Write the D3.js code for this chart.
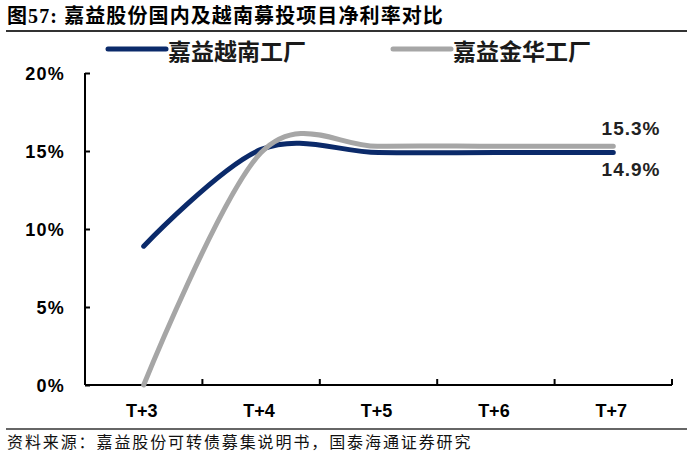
<!DOCTYPE html>
<html>
<head>
<meta charset="utf-8">
<script src="https://cdn.jsdelivr.net/npm/d3@7"></script>
<style>
  body { margin: 0; background: #fff; }
  svg { display: block; }
</style>
</head>
<body>
<script>
// chart data
var categories = ["T+3", "T+4", "T+5", "T+6", "T+7"];
var vietnam = [8.9, 15.1, 14.9, 14.9, 14.9];   // 嘉益越南工厂, %
var jinhua  = [0.0, 14.9, 15.3, 15.3, 15.3];   // 嘉益金华工厂, %
var yTicks  = [0, 5, 10, 15, 20];
var seriesNames = ["嘉益越南工厂", "嘉益金华工厂"];

var W = 691, H = 456;
var cjk = "'Noto Sans CJK SC', sans-serif";
var latin = "'Liberation Sans', Arial, sans-serif";

var svg = d3.select("body").append("svg")
    .attr("width", W)
    .attr("height", H);

// title + rules
svg.append("text")
    .attr("x", 7)
    .attr("y", 23)
    .style("font-family", "'Liberation Serif', 'Noto Sans CJK SC', serif")
    .style("font-weight", "bold")
    .style("font-size", "20px")
    .style("letter-spacing", "1.1px")
    .text("图57:  嘉益股份国内及越南募投项目净利率对比");

svg.append("line")
    .attr("x1", 6).attr("x2", 687)
    .attr("y1", 31).attr("y2", 31)
    .attr("stroke", "#333").attr("stroke-width", 2);

svg.append("line")
    .attr("x1", 6).attr("x2", 687)
    .attr("y1", 429).attr("y2", 429)
    .attr("stroke", "#333").attr("stroke-width", 1.5);

svg.append("text")
    .attr("x", 7)
    .attr("y", 448)
    .style("font-family", cjk)
    .style("font-size", "16px")
    .style("letter-spacing", "1.9px")
    .style("fill", "#111")
    .text("资料来源：嘉益股份可转债募集说明书，国泰海通证券研究");

// scales
var x = d3.scaleBand().domain(categories).range([85, 672]);
var y = d3.scaleLinear().domain([0, 20]).range([385, 73]);
var cx = function(d, i) { return x(categories[i]) + x.bandwidth() / 2; };

// axes
var gy = svg.append("g").attr("transform", "translate(85,0)")
    .call(d3.axisRight(y).tickValues(yTicks).tickSize(5).tickFormat(""));
gy.select(".domain").attr("stroke", "#000").attr("stroke-width", 2)
    .attr("d", "M0,73V385");
gy.selectAll(".tick line").attr("stroke", "#000").attr("stroke-width", 2);

svg.selectAll("text.ylab")
  .data(yTicks)
  .enter().append("text")
    .attr("class", "ylab")
    .attr("x", 65)
    .attr("y", function(d) { return y(d) + 7; })
    .attr("text-anchor", "end")
    .style("font-family", latin)
    .style("font-weight", "bold")
    .style("font-size", "18px")
    .style("letter-spacing", "1.2px")
    .text(function(d) { return d + "%"; });

var gx = svg.append("g").attr("transform", "translate(0,385)");
gx.append("line")
    .attr("x1", 85).attr("x2", 672)
    .attr("stroke", "#000").attr("stroke-width", 2);
gx.selectAll("line.tk")
  .data(categories)
  .enter().append("line")
    .attr("class", "tk")
    .attr("x1", function(d) { return x(d) + x.bandwidth(); })
    .attr("x2", function(d) { return x(d) + x.bandwidth(); })
    .attr("y1", 0).attr("y2", -6)
    .attr("stroke", "#000").attr("stroke-width", 2);
gx.selectAll("text")
  .data(categories)
  .enter().append("text")
    .attr("x", function(d) { return x(d) + x.bandwidth() / 2 - 2; })
    .attr("y", 32)
    .attr("text-anchor", "middle")
    .style("font-family", latin)
    .style("font-weight", "bold")
    .style("font-size", "18px")
    .text(function(d) { return d; });

// lines
var line = d3.line()
    .x(cx)
    .y(function(d) { return y(d); })
    .curve(d3.curveCardinal.tension(0));

svg.append("path")
    .datum(vietnam)
    .attr("d", line)
    .attr("fill", "none")
    .attr("stroke", "#0b2a6a")
    .attr("stroke-width", 5)
    .attr("stroke-linecap", "round");

svg.append("path")
    .datum(jinhua)
    .attr("d", line)
    .attr("fill", "none")
    .attr("stroke", "#a6a6a6")
    .attr("stroke-width", 5)
    .attr("stroke-linecap", "round");

// end labels
var last = categories.length - 1;
svg.append("text")
    .attr("x", 631).attr("y", 135)
    .attr("text-anchor", "middle")
    .style("font-family", latin).style("font-weight", "bold")
    .style("font-size", "19px").style("letter-spacing", "1px")
    .style("fill", "#222")
    .text(jinhua[last].toFixed(1) + "%");
svg.append("text")
    .attr("x", 631).attr("y", 176)
    .attr("text-anchor", "middle")
    .style("font-family", latin).style("font-weight", "bold")
    .style("font-size", "19px").style("letter-spacing", "1px")
    .style("fill", "#222")
    .text(vietnam[last].toFixed(1) + "%");

// legend
var legend = [
  { name: seriesNames[0], color: "#0b2a6a", x: 108 },
  { name: seriesNames[1], color: "#a6a6a6", x: 393 }
];
var lg = svg.selectAll("g.lg").data(legend).enter().append("g")
    .attr("class", "lg")
    .attr("transform", function(d) { return "translate(" + d.x + ",49)"; });
lg.append("line")
    .attr("x1", 0).attr("x2", 58)
    .attr("stroke", function(d) { return d.color; })
    .attr("stroke-width", 5)
    .attr("stroke-linecap", "round");
lg.append("text")
    .attr("x", 60).attr("y", 11)
    .style("font-family", cjk)
    .style("font-weight", "bold")
    .style("font-size", "23px")
    .style("fill", "#1a1a1a")
    .text(function(d) { return d.name; });
</script>
</body>
</html>
